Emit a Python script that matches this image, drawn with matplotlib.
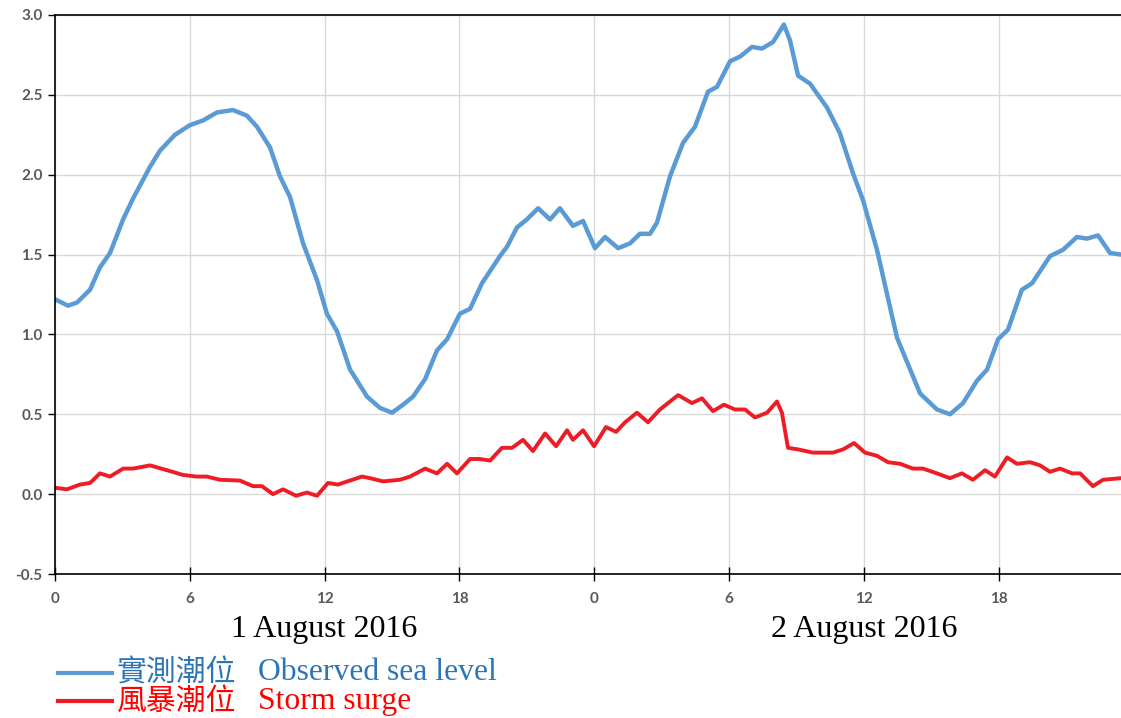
import matplotlib.pyplot as plt
from matplotlib.lines import Line2D

# hours since 00:00 on 1 August 2016
obs_hours = [0, 0.58, 0.98, 1.56, 2.0, 2.45, 3.03, 3.47, 4.23, 4.67, 5.34, 6.0, 6.59, 7.21,
             7.92, 8.54, 8.99, 9.57, 10.01, 10.46, 11.04, 11.66, 12.1, 12.55, 13.13, 13.89,
             14.46, 15.0, 15.49, 15.93, 16.47, 17.0, 17.45, 18.02, 18.47, 19.0, 19.8, 20.12,
             20.56, 21.0, 21.5, 22.03, 22.47, 23.05, 23.5, 24.03, 24.48, 25.06, 25.59, 26.03,
             26.48, 26.79, 27.37, 27.95, 28.48, 29.06, 29.46, 30.04, 30.49, 31.02, 31.46,
             31.95, 32.44, 32.71, 33.07, 33.6, 34.36, 34.93, 35.51, 35.96, 36.58, 37.47,
             38.5, 39.25, 39.83, 40.41, 41.03, 41.48, 41.97, 42.41, 43.03, 43.48, 44.28,
             44.86, 45.48, 45.93, 46.42, 46.95, 47.44]
obs_level = [1.22, 1.18, 1.20, 1.28, 1.42, 1.51, 1.72, 1.85, 2.05, 2.15, 2.25, 2.31, 2.34, 2.39,
             2.405, 2.37, 2.30, 2.17, 1.99, 1.86, 1.57, 1.34, 1.13, 1.02, 0.78, 0.61,
             0.54, 0.51, 0.56, 0.61, 0.72, 0.90, 0.97, 1.13, 1.16, 1.32, 1.49, 1.55,
             1.67, 1.72, 1.79, 1.72, 1.79, 1.68, 1.71, 1.54, 1.61, 1.54, 1.57, 1.63,
             1.63, 1.70, 1.99, 2.20, 2.30, 2.52, 2.55, 2.71, 2.74, 2.80, 2.79,
             2.83, 2.94, 2.84, 2.62, 2.57, 2.42, 2.26, 2.01, 1.84, 1.53, 0.98,
             0.63, 0.53, 0.50, 0.57, 0.71, 0.78, 0.97, 1.03, 1.28, 1.32, 1.49,
             1.53, 1.61, 1.60, 1.62, 1.51, 1.50]

surge_hours = [0, 0.53, 1.11, 1.56, 2.0, 2.45, 3.03, 3.47, 4.23, 4.98, 5.7, 6.32, 6.76, 7.34,
               8.23, 8.81, 9.21, 9.7, 10.15, 10.73, 11.21, 11.66, 12.15, 12.59, 13.66, 14.02,
               14.6, 15.35, 15.8, 16.47, 17.0, 17.45, 17.89, 18.47, 18.91, 19.36, 19.89, 20.34,
               20.83, 21.27, 21.81, 22.3, 22.79, 23.05, 23.5, 23.99, 24.52, 24.97, 25.37, 25.9,
               26.39, 26.92, 27.73, 28.35, 28.79, 29.28, 29.77, 30.26, 30.71, 31.15, 31.69,
               32.13, 32.35, 32.62, 33.07, 33.73, 34.62, 35.07, 35.56, 36.05, 36.58, 37.07,
               37.61, 38.18, 38.63, 39.25, 39.83, 40.36, 40.85, 41.39, 41.83, 42.37, 42.81,
               43.39, 43.84, 44.28, 44.73, 45.26, 45.62, 46.19, 46.64, 47.44]
surge_level = [0.04, 0.03, 0.06, 0.07, 0.13, 0.11, 0.16, 0.16, 0.18, 0.15, 0.12, 0.11, 0.11, 0.09,
               0.085, 0.05, 0.05, 0.0, 0.03, -0.01, 0.01, -0.01, 0.07, 0.06, 0.11, 0.10,
               0.08, 0.09, 0.11, 0.16, 0.13, 0.19, 0.13, 0.22, 0.22, 0.21, 0.29, 0.29,
               0.34, 0.27, 0.38, 0.30, 0.40, 0.34, 0.40, 0.30, 0.42, 0.39, 0.45, 0.51,
               0.45, 0.53, 0.62, 0.57, 0.60, 0.52, 0.56, 0.53, 0.53, 0.48, 0.51,
               0.58, 0.51, 0.29, 0.28, 0.26, 0.26, 0.28, 0.32, 0.26, 0.24, 0.20,
               0.19, 0.16, 0.16, 0.13, 0.10, 0.13, 0.09, 0.15, 0.11, 0.23, 0.19,
               0.20, 0.18, 0.14, 0.16, 0.13, 0.13, 0.05, 0.09, 0.10]

x_ticks = [0, 6, 12, 18, 24, 30, 36, 42]
x_tick_labels = ['0', '6', '12', '18', '0', '6', '12', '18']
y_ticks = [-0.5, 0.0, 0.5, 1.0, 1.5, 2.0, 2.5, 3.0]
day_labels = ['1 August 2016', '2 August 2016']
day_centres = [12, 36]
names_zh = ['實測潮位', '風暴潮位']
names_en = ['Observed sea level', 'Storm surge']

blue = '#5b9bd5'
red = '#ee1c25'

fig = plt.figure(figsize=(11.21, 7.18), dpi=100)
ax = fig.add_axes([55 / 1121, 1 - 574 / 718, 1 - 55 / 1121, (574 - 15) / 718])

ax.plot(obs_hours, obs_level, color=blue, lw=3.2, solid_joinstyle='round', solid_capstyle='round')
ax.plot(surge_hours, surge_level, color=red, lw=2.8, solid_joinstyle='round', solid_capstyle='round')

ax.set_xlim(0, 47.44)
ax.set_ylim(-0.5, 3.0)
ax.set_xticks(x_ticks)
ax.set_xticklabels(x_tick_labels)
ax.set_yticks(y_ticks)
ax.set_yticklabels([f'{v:.1f}' for v in y_ticks])

ax.grid(True, color='#d9d9d9', lw=1)
ax.set_axisbelow(True)
ax.spines['right'].set_visible(False)
for s in ['left', 'top', 'bottom']:
    ax.spines[s].set_color('black')
    ax.spines[s].set_linewidth(1.2)

ax.tick_params(axis='y', direction='out', length=5, width=1, pad=4)
ax.tick_params(axis='x', direction='inout', length=10, width=1, pad=8)
for lab in ax.get_xticklabels() + ax.get_yticklabels():
    lab.set_family('Lato')
    lab.set_weight('bold')
    lab.set_fontsize(11)
    lab.set_color('#595959')

# date labels under the hour ticks
for c, txt in zip(day_centres, day_labels):
    ax.text(c, -0.1, txt, transform=ax.get_xaxis_transform(), ha='center', va='center',
            family='Liberation Serif', fontsize=23, color='black')

# legend at the bottom left
for i, (zh, en, col, tcol) in enumerate(zip(names_zh, names_en, [blue, red], ['#2e75b6', '#ff0000'])):
    ypix = 673 + 28 * i
    yf = 1 - ypix / 718
    fig.add_artist(Line2D([58 / 1121, 112 / 1121], [yf, yf], color=col, lw=3,
                          transform=fig.transFigure))
    fig.text(117 / 1121, yf, zh, color=tcol, family='Noto Sans CJK TC', fontsize=21.5, va='center')
    fig.text(258 / 1121, yf, en, color=tcol, family='Liberation Serif', fontsize=22.8, va='center')

fig.savefig('out.png', dpi=100)
